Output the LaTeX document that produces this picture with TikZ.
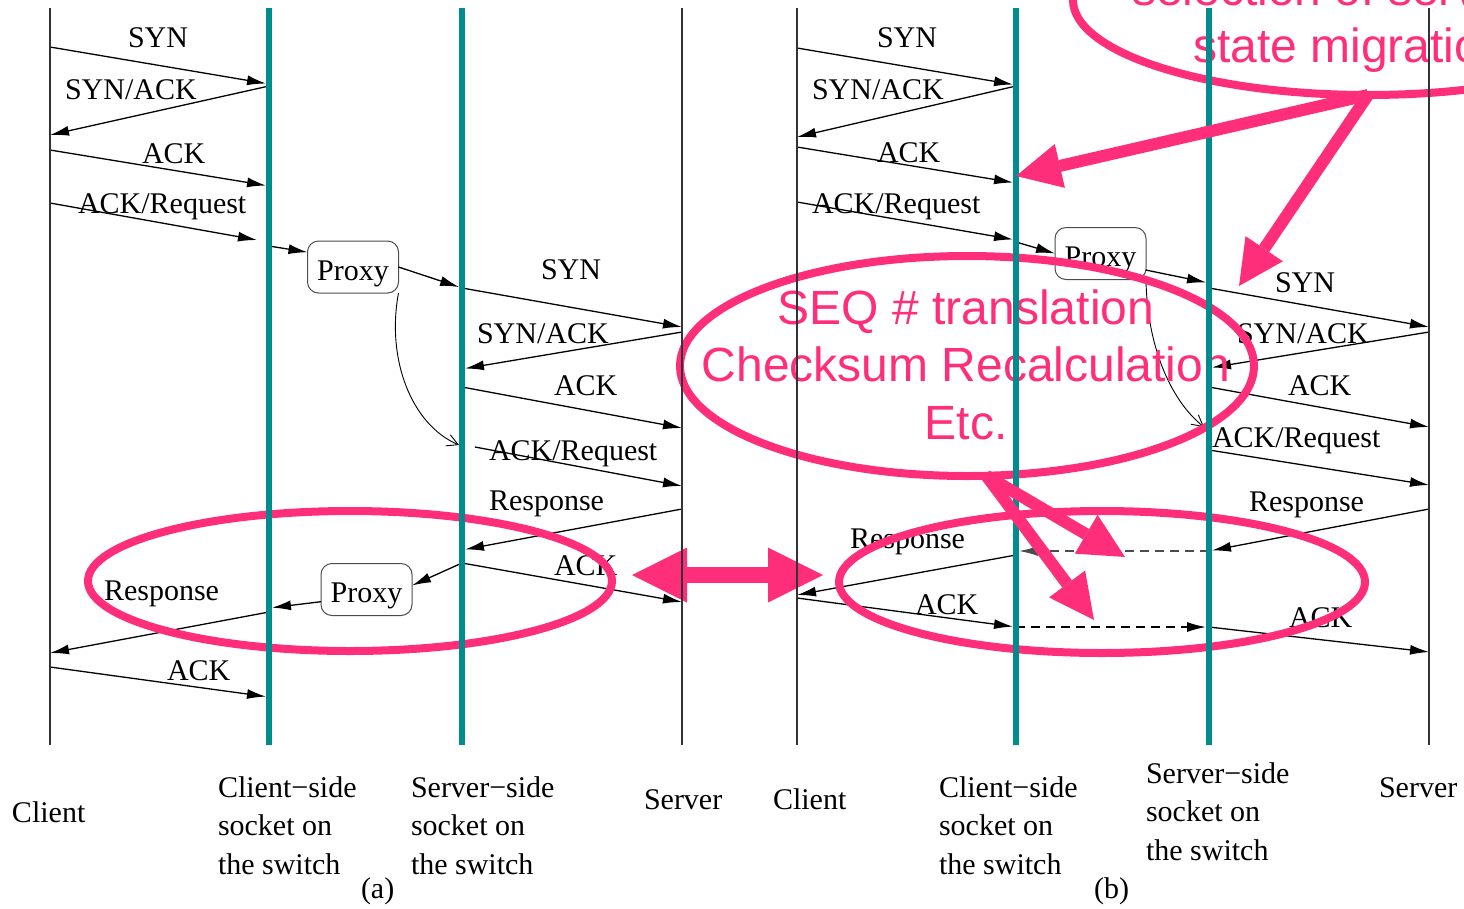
\documentclass[tikz,border=0pt]{standalone}
\usepackage{fontspec}
\setmainfont{Liberation Serif}
\newfontfamily\notefont{Liberation Sans}
\usetikzlibrary{arrows.meta,shapes.geometric}
\definecolor{sockteal}{RGB}{0,140,140}
\definecolor{notepink}{RGB}{255,46,122}
\newcommand{\msgsize}{\fontsize{30}{38.5}\selectfont}
\newcommand{\notesize}{\fontsize{48}{57.5}\selectfont}

\begin{document}
\begin{tikzpicture}[x=1pt,y=-1pt,
  every node/.style={inner sep=0pt,outer sep=0pt},
  msgtext/.style={font=\msgsize,anchor=base west},
  msg/.style={line width=1.3pt,-{Latex[length=19pt,width=10pt]}},
  tosock/.style={msg,shorten >=3pt},
  dmsg/.style={tosock,dash pattern=on 9pt off 6pt},
  handoff/.style={line width=0.9pt,-{Straight Barb[length=11pt,width=12pt]}},
  hostline/.style={line width=1.3pt,black!80},
  sockline/.style={line width=6pt,sockteal},
  proxybox/.style={draw=black!70,line width=1pt,rounded corners=11pt,
    minimum width=91pt,minimum height=52pt,font=\msgsize,
    text height=26pt,text depth=0pt},
  ring/.style={draw=notepink,line width=8pt,ellipse},
  notetext/.style={font=\notefont\notesize,text=notepink},
  callout/.style={draw=notepink,line width=12pt,
    -{Triangle[length=45pt,width=45pt,line width=0pt]}},
  swap/.style={draw=notepink,line width=16pt,
    {Triangle[length=55pt,width=55pt,line width=0pt]}-{Triangle[length=55pt,width=55pt,line width=0pt]}},
]
\useasboundingbox (0,0) rectangle (1464,908);
\clip (0,0) rectangle (1464,908);

% lifelines: (a) left half, (b) right half
\coordinate (aC)  at (50,8);   \coordinate (aCe)  at (50,745);
\coordinate (aCS) at (269,8);  \coordinate (aCSe) at (269,745);
\coordinate (aSS) at (462,8);  \coordinate (aSSe) at (462,745);
\coordinate (aS)  at (682,8);  \coordinate (aSe)  at (682,745);
\coordinate (bC)  at (797,8);  \coordinate (bCe)  at (797,745);
\coordinate (bCS) at (1016,8); \coordinate (bCSe) at (1016,745);
\coordinate (bSS) at (1209,8); \coordinate (bSSe) at (1209,745);
\coordinate (bS)  at (1429,8); \coordinate (bSe)  at (1429,745);

% ---------------- (a) ----------------
\node[proxybox] (aP1) at (353,267) {Proxy};
\node[proxybox] (aP2) at (366.5,589.5) {Proxy};
\coordinate (aReqEnd) at (257,240);
\coordinate (aReq2) at (475,447);
\coordinate (aHandEnd) at (459,445);

\draw[tosock] (aC |- 0,47) -- (aCS |- 0,84);
\node[msgtext] (aT1) at (128,47) {SYN};
\draw[msg] (aCS |- 0,86) -- (aC |- 0,135);
\node[msgtext] (aT2) at (65,99) {SYN/ACK};
\draw[tosock] (aC |- 0,150) -- (aCS |- 0,186);
\node[msgtext] (aT3) at (142,163) {ACK};
\draw[msg] (aC |- 0,203) -- (aReqEnd);
\node[msgtext] (aT4) at (78,213) {ACK/Request};
\draw[msg] (aCS |- 0,246) -- (aP1.162);
\draw[tosock] (aP1.east) -- (aSS |- 0,288);
\draw[msg] (aSS |- 0,288) -- (aS |- 0,327);
\node[msgtext] (aT5) at (541,279) {SYN};
\draw[tosock] (aS |- 0,332) -- (aSS |- 0,369);
\node[msgtext] (aT6) at (477,343) {SYN/ACK};
\draw[msg] (aSS |- 0,387) -- (aS |- 0,428);
\node[msgtext] (aT7) at (554,395) {ACK};
\draw[handoff] (aP1.south east) .. controls (386,360) and (412,425) .. (aHandEnd);
\draw[msg] (aReq2) -- (aS |- 0,486);
\node[msgtext] (aT8) at (489,460) {ACK/Request};
\draw[tosock] (aS |- 0,509) -- (aSS |- 0,550);
\node[msgtext] (aT9) at (489,510) {Response};
\draw[msg] (aSS |- 0,563) -- (aS |- 0,602);
\node[msgtext] (aT10) at (554,575) {ACK};
\draw[msg] (aSS |- 0,563) -- (aP2.5);
\draw[tosock] (aP2.195) -- (aCS |- 0,608);
\draw[msg] (aCS |- 0,612) -- (aC |- 0,653);
\node[msgtext] (aT11) at (104,600) {Response};
\draw[tosock] (aC |- 0,667) -- (aCS |- 0,697);
\node[msgtext] (aT12) at (167,680) {ACK};

% ---------------- (b) ----------------
\node[proxybox] (bP1) at (1100.5,253.5) {Proxy};
\coordinate (bHandEnd) at (1204,427);

\draw[tosock] (bC |- 0,48) -- (bCS |- 0,85);
\node[msgtext] (bT1) at (877,47) {SYN};
\draw[msg] (bCS |- 0,86) -- (bC |- 0,137);
\node[msgtext] (bT2) at (812,99) {SYN/ACK};
\draw[tosock] (bC |- 0,147) -- (bCS |- 0,183);
\node[msgtext] (bT3) at (877,162) {ACK};
\draw[tosock] (bC |- 0,202) -- (bCS |- 0,240);
\node[msgtext] (bT4) at (812,213) {ACK/Request};
\draw[msg] (bCS |- 0,242) -- (bP1.west);
\draw[tosock] (bP1.-20) -- (bSS |- 0,283);
\draw[msg] (bSS |- 0,288) -- (bS |- 0,327);
\node[msgtext] (bT5) at (1275,292) {SYN};
\draw[tosock] (bS |- 0,332) -- (bSS |- 0,368);
\node[msgtext] (bT6) at (1237,343) {SYN/ACK};
\draw[msg] (bSS |- 0,387) -- (bS |- 0,427);
\node[msgtext] (bT7) at (1288,395) {ACK};
\draw[handoff] (bP1.south east) .. controls (1147,345) and (1170,400) .. (bHandEnd);
\draw[msg] (bSS |- 0,450) -- (bS |- 0,485);
\node[msgtext] (bT8) at (1212,447) {ACK/Request};
\draw[tosock] (bS |- 0,509) -- (bSS |- 0,551);
\node[msgtext] (bT9) at (1249,511) {Response};
\draw[dmsg,black!70] (bSS |- 0,551) -- (bCS |- 0,551);
\draw[msg] (bCS |- 0,555) -- (bC |- 0,595);
\node[msgtext] (bT10) at (850,548) {Response};
\draw[tosock] (bC |- 0,598) -- (bCS |- 0,627);
\node[msgtext] (bT11) at (915,614) {ACK};
\draw[dmsg] (bCS |- 0,627) -- (bSS |- 0,627);
\draw[msg] (bSS |- 0,627) -- (bS |- 0,652);
\node[msgtext] (bT12) at (1289,627) {ACK};

% host names
\node[msgtext] (aN1) at (12,822) {Client};
\node[msgtext] (aN2) at (218,797) {\begin{tabular}[t]{@{}l@{}}Client−side\\socket on\\the switch\end{tabular}};
\node[msgtext] (aN3) at (411,797) {\begin{tabular}[t]{@{}l@{}}Server−side\\socket on\\the switch\end{tabular}};
\node[msgtext] (aN4) at (644,809) {Server};
\node[msgtext] (aCap) at (361,898) {(a)};
\node[msgtext] (bN1) at (773,809) {Client};
\node[msgtext] (bN2) at (939,797) {\begin{tabular}[t]{@{}l@{}}Client−side\\socket on\\the switch\end{tabular}};
\node[msgtext] (bN3) at (1146,783) {\begin{tabular}[t]{@{}l@{}}Server−side\\socket on\\the switch\end{tabular}};
\node[msgtext] (bN4) at (1379,797) {Server};
\node[msgtext] (bCap) at (1094,898) {(b)};

% highlight rings and notes
\node[ring,minimum width=590pt,minimum height=190pt] (ringTop) at (1368,0) {};
\node[notetext,anchor=base west] (noteTop1) at (1132,5) {selection of server};
\node[notetext,anchor=base west] (noteTop2) at (1193,62) {state migration};
\node[ring,minimum width=574pt,minimum height=220pt] (ringMid) at (967,366) {};
\node[notetext,anchor=base] (noteMid) at (966,324)
  {\begin{tabular}[t]{@{}c@{}}SEQ \# translation\\Checksum Recalculation\\Etc.\end{tabular}};
\node[ring,minimum width=524pt,minimum height=140pt] (ringA) at (350,581) {};
\node[ring,minimum width=526pt,minimum height=142pt] (ringB) at (1102,582) {};
\coordinate (swapL) at (632,575);
\coordinate (swapR) at (823,575);
\draw[swap] (swapL) -- (swapR);

% lifelines on top
\draw[hostline] (aC) -- (aCe);
\draw[sockline] (aCS) -- (aCSe);
\draw[sockline] (aSS) -- (aSSe);
\draw[hostline] (aS) -- (aSe);
\draw[hostline] (bC) -- (bCe);
\draw[sockline] (bCS) -- (bCSe);
\draw[sockline] (bSS) -- (bSSe);
\draw[hostline] (bS) -- (bSe);

% callout arrows
\coordinate (tipA) at (1016,176);
\coordinate (tipB) at (1239,286);
\coordinate (tipC) at (1125,557);
\coordinate (tipD) at (1094,620);
\draw[callout] (ringTop.south) -- (tipA);
\draw[callout] (ringTop.south) -- (tipB);
\draw[callout] (ringMid.-80) -- (tipC);
\draw[callout] (ringMid.-80) -- (tipD);
\end{tikzpicture}
\end{document}
